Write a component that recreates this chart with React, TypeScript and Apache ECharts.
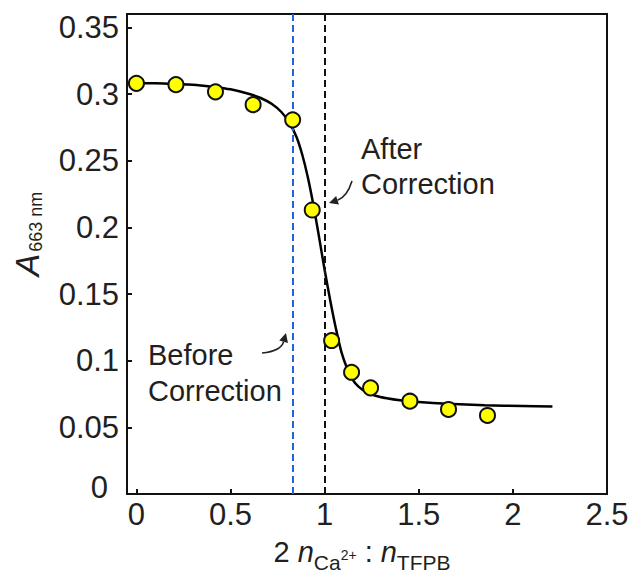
import React, { useEffect, useRef } from "react";
import * as echarts from "echarts";

// measured points: 2 n(Ca2+) : n(TFPB) vs A(663 nm)
const ratioX = [0, 0.21, 0.42, 0.62, 0.83, 0.934, 1.037, 1.143, 1.244, 1.453, 1.658, 1.865];
const absorbance = [0.308, 0.307, 0.3016, 0.292, 0.2806, 0.213, 0.1151, 0.0913, 0.0796, 0.0696, 0.0634, 0.0589];

// fitted curve
const fitX = [0, 0.1, 0.2, 0.3, 0.4, 0.5, 0.6, 0.66, 0.72, 0.77, 0.81, 0.85, 0.88, 0.91, 0.94, 0.97, 1.0, 1.03, 1.06, 1.09, 1.12, 1.15, 1.18, 1.22, 1.27, 1.33, 1.4, 1.5, 1.65, 1.85, 2.05, 2.21];
const fitY = [0.308, 0.308, 0.3075, 0.307, 0.3055, 0.3035, 0.3, 0.297, 0.2925, 0.2865, 0.279, 0.268, 0.255, 0.238, 0.217, 0.193, 0.168, 0.145, 0.124, 0.106, 0.094, 0.0855, 0.0805, 0.0765, 0.0737, 0.0718, 0.0703, 0.069, 0.0677, 0.0666, 0.066, 0.0656];

const xTickValues = [0, 0.5, 1, 1.5, 2, 2.5];
const yTickValues = [0, 0.05, 0.1, 0.15, 0.2, 0.25, 0.3, 0.35];

const beforeCorrectionX = 0.828;
const afterCorrectionX = 1.0;

const FONT = "'Liberation Sans', Arial, Helvetica, sans-serif";
const TXT = "#231f20";

function arrow(x1: number, y1: number, cx: number, cy: number, tx: number, ty: number, color: string) {
  const dx = tx - cx;
  const dy = ty - cy;
  const L = Math.hypot(dx, dy);
  const ux = dx / L;
  const uy = dy / L;
  const hl = 9;
  const hw = 4.5;
  const bx = tx - ux * hl;
  const by = ty - uy * hl;
  return [
    {
      type: "bezierCurve",
      shape: { x1, y1, cpx1: cx, cpy1: cy, x2: bx, y2: by },
      style: { stroke: color, lineWidth: 1.6, fill: "none" },
      z: 100,
    },
    {
      type: "polygon",
      shape: { points: [[tx, ty], [bx - uy * hw, by + ux * hw], [bx + uy * hw, by - ux * hw]] },
      style: { fill: color, stroke: "none" },
      z: 100,
    },
  ];
}

export default function App() {
  const ref = useRef<HTMLDivElement>(null);

  useEffect(() => {
    document.body.style.margin = "0";
    const chart = echarts.init(ref.current!, null, { renderer: "svg" });
    const option: any = {
      animation: false,
      backgroundColor: "#ffffff",
      grid: {
        left: 127,
        right: 26,
        top: 14,
        bottom: 83,
        show: true,
        borderColor: "#111111",
        borderWidth: 2,
        backgroundColor: "transparent",
      },
      xAxis: {
        type: "value",
        min: -0.05,
        max: 2.5,
        splitLine: { show: false },
        axisLine: { show: true, onZero: false, lineStyle: { color: "#111111", width: 2 } },
        axisTick: { show: true, inside: true, length: 5, customValues: xTickValues, lineStyle: { color: "#111111", width: 2 } },
        axisLabel: {
          customValues: xTickValues,
          fontSize: 31,
          fontFamily: FONT,
          color: TXT,
          margin: 5,
        },
      },
      yAxis: {
        type: "value",
        min: 0,
        max: 0.36,
        splitLine: { show: false },
        axisLine: { show: true, onZero: false, lineStyle: { color: "#111111", width: 2 } },
        axisTick: { show: true, inside: true, length: 5, customValues: yTickValues, lineStyle: { color: "#111111", width: 2 } },
        axisLabel: {
          customValues: yTickValues,
          fontSize: 31,
          fontFamily: FONT,
          color: TXT,
          margin: 8,
          formatter: (v: number) => (v === 0 ? "{z|0}" : String(v)),
          rich: {
            z: { fontSize: 31, fontFamily: FONT, color: TXT, padding: [0, 11, 14, 0] },
          },
        },
      },
      series: [
        {
          type: "line",
          data: fitX.map((x, i) => [x, fitY[i]]),
          smooth: 0.3,
          showSymbol: false,
          symbol: "none",
          lineStyle: { color: "#000000", width: 2.5 },
          z: 3,
          markLine: {
            silent: true,
            symbol: ["none", "none"],
            label: { show: false },
            data: [
              { xAxis: beforeCorrectionX, lineStyle: { color: "#1f63e0", width: 2, type: [7, 4] } },
              { xAxis: afterCorrectionX, lineStyle: { color: "#111111", width: 2, type: [7, 4] } },
            ],
          },
        },
        {
          type: "scatter",
          data: ratioX.map((x, i) => [x, absorbance[i]]),
          symbol: "circle",
          symbolSize: 15,
          itemStyle: { color: "#ffff00", borderColor: "#111111", borderWidth: 2, opacity: 1 },
          z: 5,
        },
      ],
      graphic: [
        {
          type: "text",
          x: 27,
          y: 234,
          rotation: Math.PI / 2,
          style: {
            text: "{a|A}{s|663 nm}",
            align: "center",
            verticalAlign: "middle",
            fill: TXT,
            rich: {
              a: { fontSize: 34, fontStyle: "italic", fontFamily: FONT, lineHeight: 34, verticalAlign: "top", fill: TXT, padding: [0, 2, 0, 0] },
              s: { fontSize: 18, fontFamily: FONT, lineHeight: 18, verticalAlign: "top", fill: TXT, padding: [17, 0, 0, 0] },
            },
          },
        },
        {
          type: "text",
          x: 362,
          y: 552,
          style: {
            text: "{m|2 }{i|n}{s|Ca}{p|2+}{m| : }{i|n}{s|TFPB}",
            align: "center",
            verticalAlign: "middle",
            fill: TXT,
            rich: {
              m: { fontSize: 29, fontFamily: FONT, lineHeight: 29, verticalAlign: "top", fill: TXT },
              i: { fontSize: 29, fontStyle: "italic", fontFamily: FONT, lineHeight: 29, verticalAlign: "top", fill: TXT },
              s: { fontSize: 21, fontFamily: FONT, lineHeight: 21, verticalAlign: "top", fill: TXT, padding: [14, 0, 0, 0] },
              p: { fontSize: 14, fontFamily: FONT, lineHeight: 14, verticalAlign: "top", fill: TXT, padding: [10, 0, 0, 0] },
            },
          },
        },
        {
          type: "text",
          x: 361,
          y: 131,
          style: {
            text: "After\nCorrection",
            fontSize: 29,
            lineHeight: 35,
            fontFamily: FONT,
            fill: TXT,
            align: "left",
            verticalAlign: "top",
          },
        },
        {
          type: "text",
          x: 148,
          y: 337,
          style: {
            text: "Before\nCorrection",
            fontSize: 29,
            lineHeight: 36,
            fontFamily: FONT,
            fill: TXT,
            align: "left",
            verticalAlign: "top",
          },
        },
        ...arrow(352, 181, 347, 197, 329, 203, "#222222"),
        ...arrow(262, 353, 281, 351, 286, 333, "#222222"),
      ],
    };
    chart.setOption(option);
    return () => chart.dispose();
  }, []);

  return <div ref={ref} style={{ width: 633, height: 577 }} />;
}
